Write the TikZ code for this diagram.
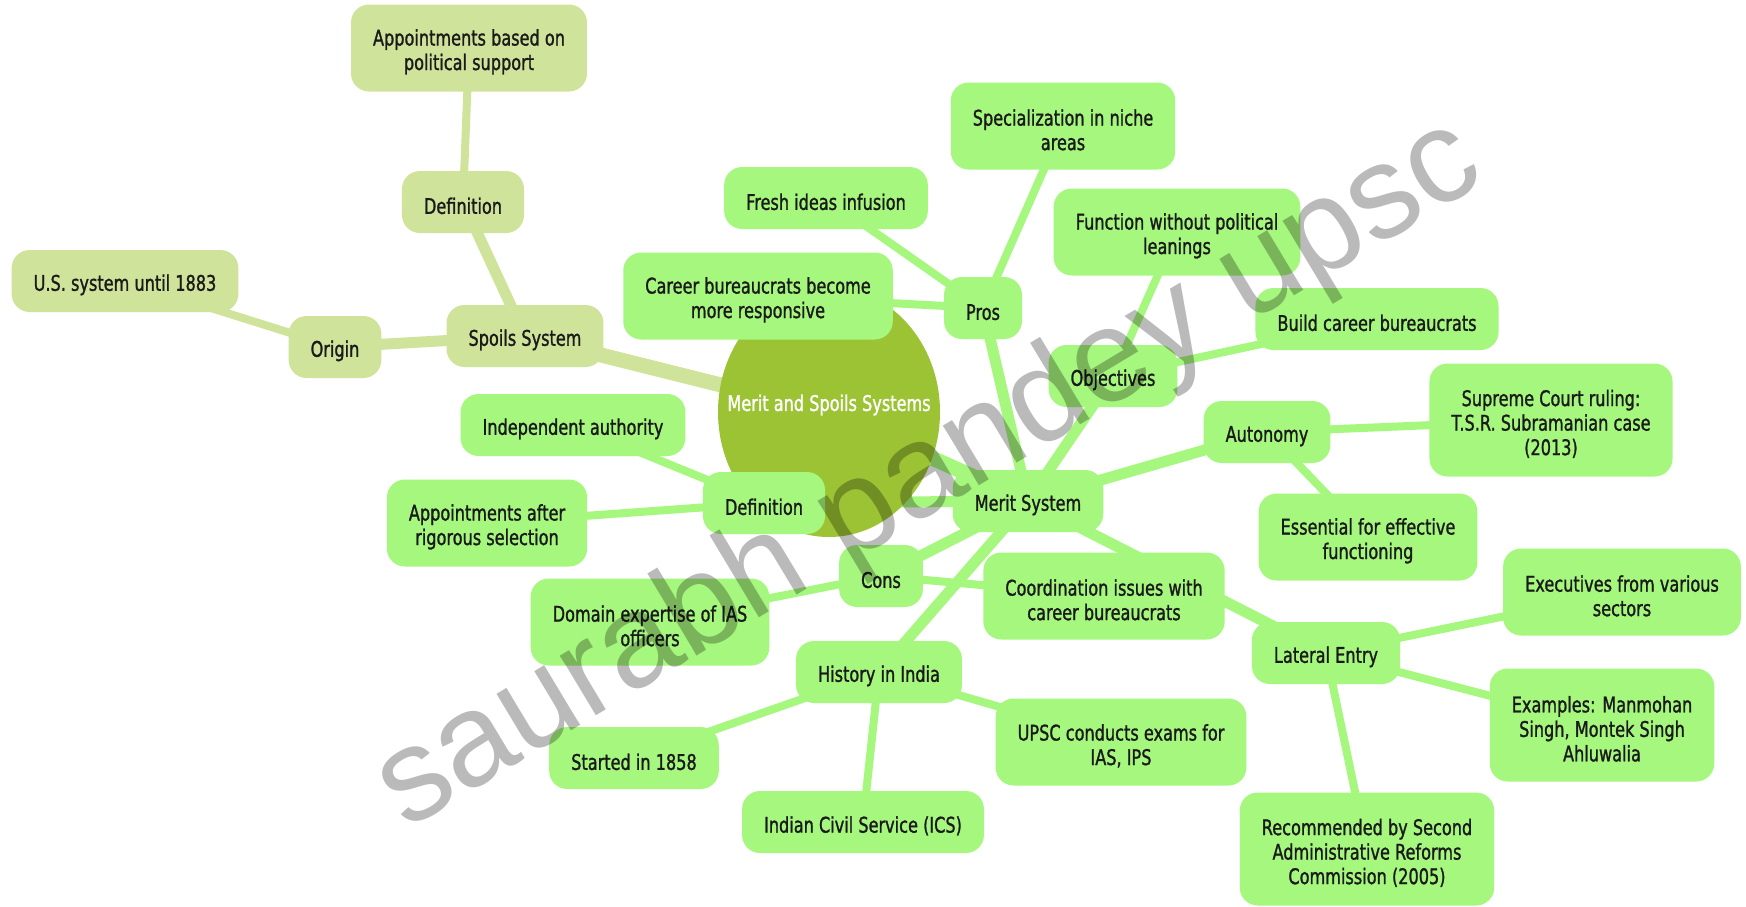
\documentclass[tikz,border=0pt]{standalone}
\usepackage{fontspec}
\setmainfont{DejaVu Sans}[FakeStretch=0.75,FakeBold=1.2]
\newfontfamily\wmfont{Liberation Sans}
\usetikzlibrary{backgrounds,shapes.geometric}
\definecolor{meritc}{HTML}{A6F77E}
\definecolor{spoilc}{HTML}{D0E39A}
\definecolor{rootc}{HTML}{9CC334}
\definecolor{txtc}{HTML}{1A1A1A}
\newcommand\fst{\rule{0pt}{24pt}}
\begin{document}
\begin{tikzpicture}[x=1pt,y=-1pt,
  box/.style={rounded corners=18pt, inner xsep=22pt, inner ysep=0pt, align=center,
    text=txtc, font=\fontsize{21.5}{24.5}\selectfont},
  mbox/.style={box, fill=meritc},
  sbox/.style={box, fill=spoilc},
  one/.style={minimum height=62pt, text height=24pt},
  two/.style={minimum height=87pt},
  three/.style={minimum height=113pt},
  ezero/.style={line width=15pt},
  eone/.style={line width=11pt},
  etwo/.style={line width=8pt},
  medge/.style={draw=meritc},
  sedge/.style={draw=spoilc}
]
\useasboundingbox (0,0) rectangle (1746,906);

% root
\node[ellipse, fill=rootc, minimum width=222pt, minimum height=250pt, inner sep=0pt] (root) at (829,412) {};
\node[text=white, font=\fontsize{21.5}{24.5}\selectfont] (roottext) at (829,405) {Merit and Spoils Systems};

% spoils branch
\node[sbox, one] (spoils) at (525,336) {Spoils System};
\node[sbox, one] (sdef) at (463,202) {Definition};
\node[sbox, two] (spol) at (469,48) {\fst Appointments based on\\political support};
\node[sbox, one] (origin) at (335,347) {Origin};
\node[sbox, one] (us) at (125,281) {U.S. system until 1883};

% merit branch
\node[mbox, one] (merit) at (1028,501) {Merit System};
\node[mbox, one] (pros) at (983,308) {Pros};
\node[mbox, one] (fresh) at (826,198) {Fresh ideas infusion};
\node[mbox, two] (spec) at (1063,126) {\fst Specialization in niche\\areas};
\node[mbox, two] (career) at (758,296) {\fst Career bureaucrats become\\more responsive};
\node[mbox, two] (func) at (1177,232) {\fst Function without political\\leanings};
\node[mbox, one] (obj) at (1113,376) {Objectives};
\node[mbox, one] (build) at (1377,319) {Build career bureaucrats};
\node[mbox, one] (auto) at (1267,432) {Autonomy};
\node[mbox, three] (sc) at (1551,420) {\fst Supreme Court ruling:\\T.S.R. Subramanian case\\(2013)};
\node[mbox, two] (ess) at (1368,537) {\fst Essential for effective\\functioning};
\node[mbox, one] (mdef) at (764,503) {Definition};
\node[mbox, one] (indep) at (573,425) {Independent authority};
\node[mbox, two] (rig) at (487,523) {\fst Appointments after\\rigorous selection};
\node[mbox, one] (cons) at (881,576) {Cons};
\node[mbox, two] (domain) at (650,622) {\fst Domain expertise of IAS\\officers};
\node[mbox, two] (coord) at (1104,596) {\fst Coordination issues with\\career bureaucrats};
\node[mbox, one] (hist) at (879,672) {History in India};
\node[mbox, one] (start) at (634,758) {Started in 1858};
\node[mbox, one] (ics) at (863,822) {Indian Civil Service (ICS)};
\node[mbox, two] (upsc) at (1121,742) {\fst UPSC conducts exams for\\IAS, IPS};
\node[mbox, one] (lat) at (1326,653) {Lateral Entry};
\node[mbox, two] (exec) at (1622,592) {\fst Executives from various\\sectors};
\node[mbox, three] (ex) at (1602,725) {\fst Examples: Manmohan\\Singh, Montek Singh\\Ahluwalia};
\node[mbox, three] (rec) at (1367,849) {\fst Recommended by Second\\Administrative Reforms\\Commission (2005)};

\begin{pgfonlayer}{background}
\fill[white] (0,0) rectangle (1746,906);
\draw[ezero, sedge] (root.center) -- (spoils.center);
\draw[ezero, medge] (root.center) -- (merit.center);
\draw[eone, sedge] (spoils.center) -- (sdef.center);
\draw[eone, sedge] (spoils.center) -- (origin.center);
\draw[etwo, sedge] (sdef.center) -- (spol.center);
\draw[etwo, sedge] (origin.center) -- (us.center);
\foreach \c in {pros,obj,auto,mdef,cons,hist,lat}
  \draw[eone, medge] (merit.center) -- (\c.center);
\foreach \c in {fresh,spec,career}
  \draw[etwo, medge] (pros.center) -- (\c.center);
\foreach \c in {func,build}
  \draw[etwo, medge] (obj.center) -- (\c.center);
\foreach \c in {sc,ess}
  \draw[etwo, medge] (auto.center) -- (\c.center);
\foreach \c in {indep,rig}
  \draw[etwo, medge] (mdef.center) -- (\c.center);
\foreach \c in {domain,coord}
  \draw[etwo, medge] (cons.center) -- (\c.center);
\foreach \c in {start,ics,upsc}
  \draw[etwo, medge] (hist.center) -- (\c.center);
\foreach \c in {exec,ex,rec}
  \draw[etwo, medge] (lat.center) -- (\c.center);
\end{pgfonlayer}

% watermark
\node[rotate=31, anchor=base, text=black, opacity=0.27, text opacity=0.27,
  font=\wmfont\fontsize{132}{132}\selectfont] (wm) at (947,505) {saurabh pandey upsc};
\end{tikzpicture}
\end{document}
